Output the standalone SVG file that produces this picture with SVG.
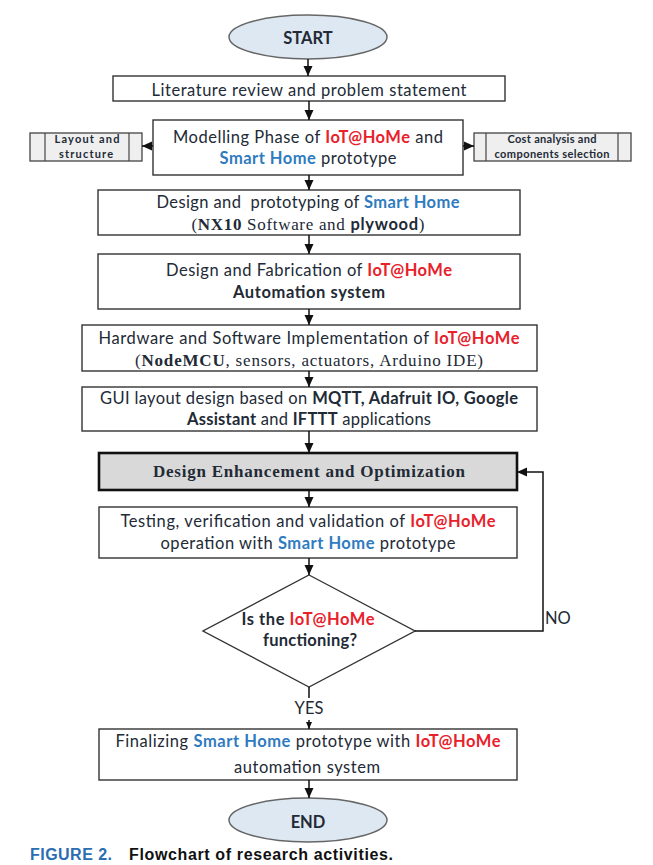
<svg xmlns="http://www.w3.org/2000/svg" width="653" height="865" viewBox="0 0 653 865">
<defs>
<marker id="ah" markerUnits="userSpaceOnUse" markerWidth="10" markerHeight="10" refX="10" refY="5" orient="auto">
<path d="M0,0.5 L10,5 L0,9.5 z" fill="#111"/>
</marker>
<marker id="ahs" markerUnits="userSpaceOnUse" markerWidth="7" markerHeight="7" refX="7" refY="3.5" orient="auto">
<path d="M0,0.5 L7,3.5 L0,6.5 z" fill="#111"/>
</marker>
</defs>
<style>
.box{fill:#fff;stroke:#333;stroke-width:1.4}
.side{fill:#efefef;stroke:#444;stroke-width:1.3}
.term{fill:#dde8f3;stroke:#666;stroke-width:1.5}
.gray{fill:#d9d9d9;stroke:#111;stroke-width:2.6}
.t{font-family:Lato,"Open Sans","Liberation Sans",sans-serif;font-size:16.5px;fill:#222a36;text-anchor:middle}
.s{font-family:"Liberation Serif","DejaVu Serif",serif;font-size:17px;fill:#222a36;text-anchor:middle}
.sm{font-family:Lato,"Liberation Sans",sans-serif;font-size:11px;font-weight:bold;fill:#222a36;text-anchor:middle}
.b{font-weight:bold}
.r{fill:#e8212b;font-weight:bold}
.bl{fill:#2f7bc0;font-weight:bold}
.c{stroke:#111;stroke-width:1.5;fill:none}
.cap{font-family:"Liberation Sans",Arial,sans-serif;font-size:16px;font-weight:bold}
</style>
<rect width="653" height="865" fill="#fff"/>

<g id="start">
<ellipse class="term" cx="308" cy="37" rx="79" ry="22"/>
<text class="t b" x="308" y="44" font-size="16px">START</text>
</g>

<g id="literature">
<rect class="box" x="113" y="76" width="392" height="25"/>
<text class="t" x="309" y="96" textLength="315">Literature review and problem statement</text>
</g>

<g id="modelling">
<rect class="box" x="153" y="120" width="310" height="55"/>
<text class="t" x="308" y="143" textLength="270">Modelling Phase of <tspan class="r">IoT@HoMe</tspan> and</text>
<text class="t" x="308" y="164" textLength="177"><tspan class="bl">Smart Home</tspan> prototype</text>
</g>

<g id="layout">
<rect class="side" x="30" y="133" width="112" height="28"/>
<line x1="45" y1="133" x2="45" y2="161" stroke="#444" stroke-width="1.2"/>
<line x1="129" y1="133" x2="129" y2="161" stroke="#444" stroke-width="1.2"/>
<text class="sm" x="87" y="143" textLength="65">Layout and</text>
<text class="sm" x="86" y="157.5" textLength="54">structure</text>
</g>

<g id="cost">
<rect class="side" x="474" y="133" width="157" height="28"/>
<line x1="486" y1="133" x2="486" y2="161" stroke="#444" stroke-width="1.2"/>
<line x1="618" y1="133" x2="618" y2="161" stroke="#444" stroke-width="1.2"/>
<text class="sm" x="552" y="143" textLength="89">Cost analysis and</text>
<text class="sm" x="552" y="157.5" textLength="115">components selection</text>
</g>

<g id="design-prototyping">
<rect class="box" x="98" y="190" width="422" height="45"/>
<text class="t" x="308" y="208" textLength="303" xml:space="preserve">Design and  prototyping of <tspan class="bl">Smart Home</tspan></text>
<text x="308" y="230" textLength="233" class="s">(<tspan class="b">NX10</tspan> Software and <tspan class="b" font-family="Lato,'Liberation Sans',sans-serif" font-size="16.5px">plywood</tspan>)</text>
</g>

<g id="fabrication">
<rect class="box" x="98" y="254" width="422" height="55"/>
<text class="t" x="309" y="276" textLength="286">Design and Fabrication of <tspan class="r">IoT@HoMe</tspan></text>
<text class="t b" x="309" y="298" textLength="152">Automation system</text>
</g>

<g id="implementation">
<rect class="box" x="82" y="325" width="455" height="46"/>
<text class="t" x="309" y="344" textLength="421">Hardware and Software Implementation of <tspan class="r">IoT@HoMe</tspan></text>
<text class="s" x="309" y="366" textLength="348">(<tspan class="b">NodeMCU</tspan>, sensors, actuators, Arduino IDE)</text>
</g>

<g id="gui">
<rect class="box" x="82" y="387" width="455" height="44"/>
<text class="t" x="309" y="404" textLength="418">GUI layout design based on <tspan class="b">MQTT, Adafruit IO, Google</tspan></text>
<text class="t" x="309" y="425" textLength="244"><tspan class="b">Assistant</tspan> and <tspan class="b">IFTTT</tspan> applications</text>
</g>

<g id="enhancement">
<rect class="gray" x="99" y="453" width="418" height="37"/>
<text class="s b" x="309" y="477" textLength="312">Design Enhancement and Optimization</text>
</g>

<g id="testing">
<rect class="box" x="99" y="507" width="418" height="51"/>
<text class="t" x="308" y="527" textLength="375">Testing, verification and validation of <tspan class="r">IoT@HoMe</tspan></text>
<text class="t" x="308" y="549" textLength="295">operation with <tspan class="bl">Smart Home</tspan> prototype</text>
</g>

<g id="decision">
<polygon class="box" points="309,575 415,631 309,687 203,631"/>
<text class="t b" x="308" y="625" textLength="133">Is the <tspan class="r">IoT@HoMe</tspan></text>
<text class="t b" x="310" y="646" textLength="94">functioning?</text>
</g>

<g id="finalizing">
<rect class="box" x="99" y="729" width="418" height="51"/>
<text class="t" x="308" y="747" textLength="385">Finalizing <tspan class="bl">Smart Home</tspan> prototype with <tspan class="r">IoT@HoMe</tspan></text>
<text class="t" x="307" y="773" textLength="146">automation system</text>
</g>

<g id="end">
<ellipse class="term" cx="308" cy="820" rx="79" ry="22"/>
<text class="t b" x="308" y="828" font-size="16px">END</text>
</g>

<g id="connectors">
<line class="c" x1="308" y1="59" x2="308" y2="76" marker-end="url(#ah)"/>
<line class="c" x1="309" y1="101" x2="309" y2="120" marker-end="url(#ah)"/>
<line class="c" x1="153" y1="146" x2="142" y2="146" marker-end="url(#ah)"/>
<line class="c" x1="463" y1="146" x2="474" y2="146" marker-end="url(#ah)"/>
<line class="c" x1="309" y1="175" x2="309" y2="190" marker-end="url(#ah)"/>
<line class="c" x1="309" y1="235" x2="309" y2="254" marker-end="url(#ah)"/>
<line class="c" x1="309" y1="309" x2="309" y2="325" marker-end="url(#ah)"/>
<line class="c" x1="309" y1="371" x2="309" y2="387" marker-end="url(#ah)"/>
<line class="c" x1="309" y1="431" x2="309" y2="453" marker-end="url(#ah)"/>
<line class="c" x1="309" y1="490" x2="309" y2="507" marker-end="url(#ah)"/>
<line class="c" x1="309" y1="558" x2="309" y2="575" marker-end="url(#ah)"/>
<line class="c" x1="309" y1="687" x2="309" y2="698"/>
<line class="c" x1="309" y1="720" x2="309" y2="729" marker-end="url(#ahs)"/>
<line class="c" x1="309" y1="780" x2="309" y2="798" marker-end="url(#ah)"/>
<path class="c" d="M415,631 H543 V472 H517" marker-end="url(#ah)"/>
<text class="t" x="545" y="624" style="text-anchor:start">NO</text>
<text class="t" x="309" y="714">YES</text>
</g>

<text class="cap" x="30" y="860" fill="#2a6db0" textLength="82">FIGURE 2.</text>
<text class="cap" x="129" y="860" fill="#111" textLength="264">Flowchart of research activities.</text>
</svg>
